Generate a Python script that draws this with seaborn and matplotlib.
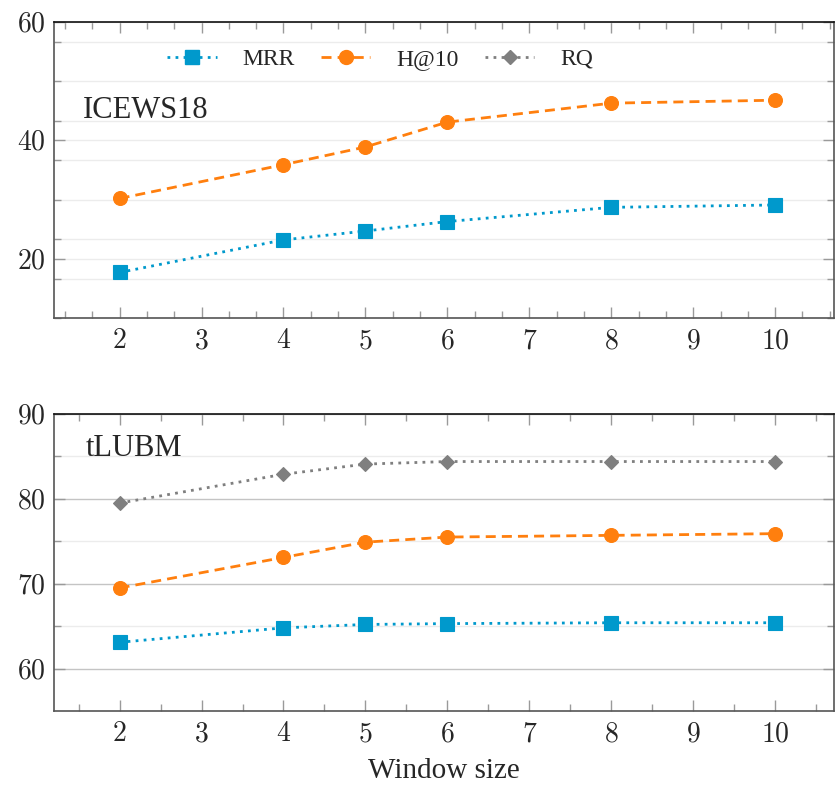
import matplotlib
matplotlib.use("Agg")
import matplotlib.pyplot as plt
import seaborn as sns
import numpy as np
import pandas as pd
from matplotlib.ticker import MultipleLocator, FixedLocator, FuncFormatter
from matplotlib.lines import Line2D

# ---- data ----
window_sizes = [2, 4, 5, 6, 8, 10]
x_tick_labels = [2, 3, 4, 5, 6, 7, 8, 9, 10]

icews_mrr = [17.7, 23.2, 24.7, 26.3, 28.7, 29.1]
icews_h10 = [30.2, 35.9, 38.9, 43.1, 46.3, 46.8]

tlubm_mrr = [63.1, 64.8, 65.2, 65.3, 65.4, 65.4]
tlubm_h10 = [69.5, 73.1, 74.9, 75.5, 75.7, 75.9]
tlubm_rq = [79.5, 82.9, 84.1, 84.4, 84.4, 84.4]

series_names = ["MRR", "H@10", "RQ"]
top_yticks = [20, 40, 60]
bottom_yticks = [60, 70, 80, 90]

# ---- styles ----
sns.set_theme(style="white")
plt.rcParams["font.family"] = ["Liberation Serif", "DejaVu Serif"]
plt.rcParams["mathtext.fontset"] = "cm"

C_MRR = "#0099CC"
C_H10 = "#FF7F0E"
C_RQ = "#7F7F7F"
LW = 2.0
styles = {
    "MRR": dict(color=C_MRR, linestyle=(0, (1.0, 1.9)), marker="s", markersize=9.5),
    "H@10": dict(color=C_H10, linestyle=(0, (3.6, 2.2)), marker="o", markersize=10),
    "RQ": dict(color=C_RQ, linestyle=(0, (1.0, 1.9)), marker="D", markersize=7.5),
}

fig = plt.figure(figsize=(8.35, 7.88), dpi=100)
ax1 = fig.add_axes([0.0647, 0.5964, 0.9343, 0.3756])
ax2 = fig.add_axes([0.0647, 0.0977, 0.9343, 0.3769])


def draw(ax, name, vals):
    st = styles[name]
    sns.lineplot(x=window_sizes, y=vals, ax=ax, color=st["color"], linestyle=st["linestyle"],
                 marker=st["marker"], markersize=st["markersize"], markeredgewidth=0.8,
                 markeredgecolor=st["color"], linewidth=LW, zorder=5, legend=False,
                 dash_capstyle="butt")


draw(ax1, "MRR", icews_mrr)
draw(ax1, "H@10", icews_h10)
draw(ax2, "RQ", tlubm_rq)
draw(ax2, "H@10", tlubm_h10)
draw(ax2, "MRR", tlubm_mrr)

fmt = FuncFormatter(lambda v, p: r"$%d$" % v)


def style_axes(ax, ylim, yticks, yminor, xminor, major_grid_color, minor_grid_color):
    ax.set_xlim(1.2, 10.72)
    ax.set_ylim(*ylim)
    ax.xaxis.set_major_locator(FixedLocator(x_tick_labels))
    ax.xaxis.set_minor_locator(MultipleLocator(xminor))
    ax.yaxis.set_major_locator(FixedLocator(yticks))
    ax.yaxis.set_minor_locator(FixedLocator(yminor))
    ax.xaxis.set_major_formatter(fmt)
    ax.yaxis.set_major_formatter(fmt)
    ax.tick_params(which="both", direction="in", top=True, right=True, bottom=True, left=True,
                   color="#9a9a9a", width=1.0)
    ax.tick_params(which="major", length=8, labelsize=20, pad=8)
    ax.tick_params(which="minor", length=5)
    ax.tick_params(axis="y", which="major", pad=6)
    ax.grid(True, which="major", axis="y", color=major_grid_color, linewidth=1.0, zorder=0)
    ax.grid(True, which="minor", axis="y", color=minor_grid_color, linewidth=1.0, zorder=0)
    ax.grid(False, axis="x", which="both")
    ax.set_axisbelow(True)
    for s in ax.spines.values():
        s.set_color("#555555")
        s.set_linewidth(1.2)
    ax.spines["top"].set_color("#111111")
    ax.set_xlabel("")
    ax.set_ylabel("")


top_minor = [v for v in np.arange(10, 60.01, 20 / 3)]
style_axes(ax1, (10, 60), top_yticks, top_minor, 1 / 3, "#ececec", "#ececec")
style_axes(ax2, (55, 90), bottom_yticks, [65, 75, 85], 0.5, "#c4c4c4", "#ececec")

ax1.text(0.037, 0.70, "ICEWS18", transform=ax1.transAxes, fontsize=22, va="center", ha="left")
ax2.text(0.041, 0.885, "tLUBM", transform=ax2.transAxes, fontsize=22, va="center", ha="left")
ax2.set_xlabel("Window size", fontsize=21, labelpad=8)

handles = []
for n in series_names:
    st = styles[n]
    handles.append(Line2D([], [], color=st["color"], linestyle=st["linestyle"], marker=st["marker"],
                          markersize=st["markersize"], linewidth=LW, markeredgecolor=st["color"],
                          dash_capstyle="butt"))
leg = ax1.legend(handles, series_names, loc="center", bbox_to_anchor=(0.418, 0.875), ncol=3,
                 frameon=True, fontsize=17, handlelength=2.1, handletextpad=1.1, columnspacing=1.1,
                 borderpad=0.2)
leg.get_frame().set_edgecolor("white")
leg.get_frame().set_facecolor("white")
leg.get_frame().set_alpha(1.0)
leg.set_zorder(10)

fig.savefig("out.png", dpi=100)
